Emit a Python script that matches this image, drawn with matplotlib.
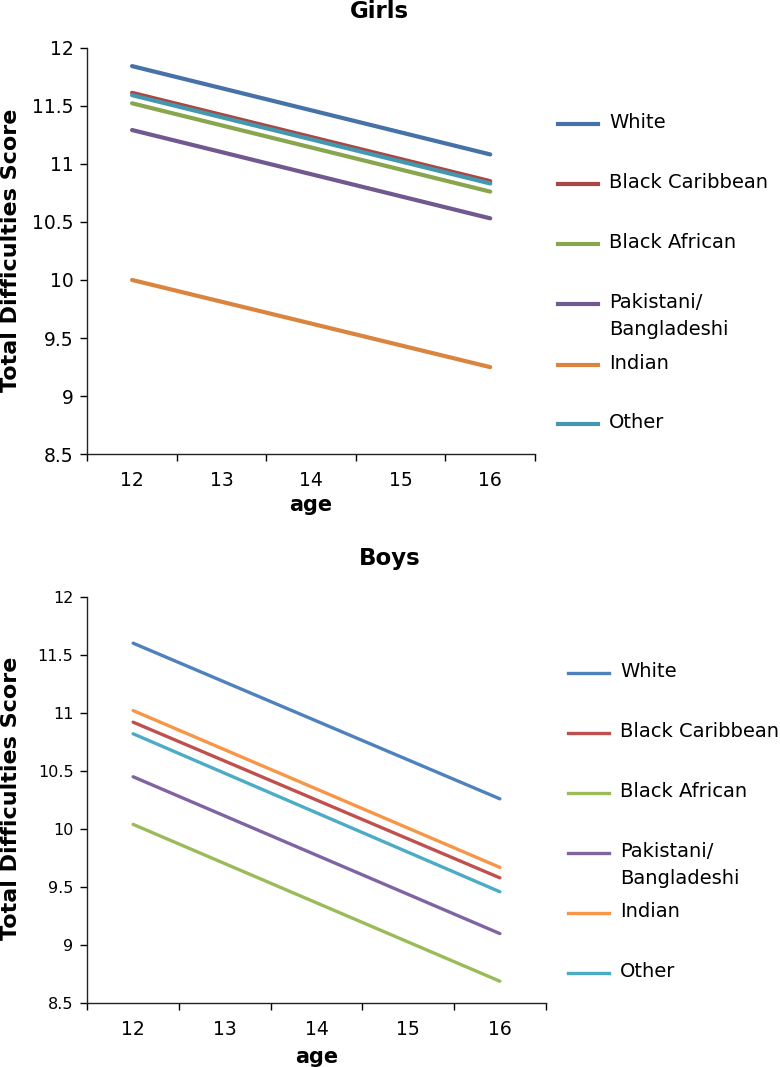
import matplotlib
matplotlib.use("Agg")
import matplotlib.pyplot as plt
from matplotlib.lines import Line2D

plt.rcParams['font.family'] = ['DejaVu Sans']

# data
ages = [12, 16]
groups = ['White', 'Black Caribbean', 'Black African', 'Pakistani/\nBangladeshi', 'Indian', 'Other']

girls_white = [11.84, 11.08]
girls_black_caribbean = [11.61, 10.85]
girls_black_african = [11.52, 10.76]
girls_pakistani = [11.29, 10.53]
girls_indian = [10.00, 9.25]
girls_other = [11.59, 10.83]

boys_white = [11.60, 10.26]
boys_black_caribbean = [10.92, 9.58]
boys_black_african = [10.04, 8.69]
boys_pakistani = [10.45, 9.10]
boys_indian = [11.02, 9.67]
boys_other = [10.82, 9.46]

girls = [girls_white, girls_black_caribbean, girls_black_african, girls_pakistani, girls_indian, girls_other]
boys = [boys_white, boys_black_caribbean, boys_black_african, boys_pakistani, boys_indian, boys_other]

girls_colors = ['#4672A8', '#AA4643', '#89A54E', '#71588F', '#DB843D', '#4198AF']
boys_colors = ['#4F81BD', '#C0504D', '#9BBB59', '#8064A2', '#F79646', '#4BACC6']

W, H = 780, 1067
fig = plt.figure(figsize=(W / 100, H / 100), dpi=100)


def px(x, y):
    return x / W, 1 - y / H


def panel(rect, series, colors, lw, ytick_size):
    ax = fig.add_axes(rect)
    for vals, c in zip(series, colors):
        ax.plot(ages, vals, color=c, lw=lw, solid_capstyle='round')
    ax.set_xlim(11.5, 16.5)
    ax.set_ylim(8.5, 12)
    ax.set_xticks([12, 13, 14, 15, 16])
    ax.set_xticks([11.5, 12.5, 13.5, 14.5, 15.5, 16.5], minor=True)
    ax.tick_params(axis='x', which='major', length=0, pad=12, labelsize=13.5)
    ax.tick_params(axis='x', which='minor', length=5, width=1, direction='out')
    ytk = [8.5, 9, 9.5, 10, 10.5, 11, 11.5, 12]
    ax.set_yticks(ytk)
    ax.set_yticklabels(['%g' % v for v in ytk])
    ax.tick_params(axis='y', length=5, width=1, direction='out', pad=5, labelsize=ytick_size)
    for s in ['top', 'right']:
        ax.spines[s].set_visible(False)
    for s in ['left', 'bottom']:
        ax.spines[s].set_linewidth(1)
        ax.spines[s].set_color('#222222')
    return ax


# girls panel
g_left, g_right, g_top, g_bot = 87.3, 535, 47.5, 454.3
panel([g_left / W, 1 - g_bot / H, (g_right - g_left) / W, (g_bot - g_top) / H],
      girls, girls_colors, 3.0, 13.5)

# boys panel
b_left, b_right, b_top, b_bot = 87.3, 545.7, 596.7, 1003.3
panel([b_left / W, 1 - b_bot / H, (b_right - b_left) / W, (b_bot - b_top) / H],
      boys, boys_colors, 2.4, 11.5)

# titles and labels
fig.text(*px(379, 12), 'Girls', ha='center', va='center', fontsize=16.5, fontweight='bold')
fig.text(*px(390, 559), 'Boys', ha='center', va='center', fontsize=16.5, fontweight='bold')
fig.text(*px(311, 505), 'age', ha='center', va='center', fontsize=15, fontweight='bold')
fig.text(*px(317, 1057), 'age', ha='center', va='center', fontsize=15, fontweight='bold')
fig.text(*px(11, 250), 'Total Difficulties Score', ha='center', va='center', rotation=90,
         fontsize=16, fontweight='bold')
fig.text(*px(11, 798), 'Total Difficulties Score', ha='center', va='center', rotation=90,
         fontsize=16, fontweight='bold')

# legends (Excel style, fixed row step)
def legend(x0, x1, xt, ys, colors, lw):
    for lab, c, y in zip(groups, colors, ys):
        xa, ya = px(x0, y)
        xb, _ = px(x1, y)
        fig.add_artist(Line2D([xa, xb], [ya, ya], color=c, lw=lw, transform=fig.transFigure))
        fig.text(*px(xt, y - 11), lab, ha='left', va='top', fontsize=14, linespacing=1.55)


legend(558, 598, 609, [124, 184, 244, 304, 365, 424], girls_colors, 3.0)
legend(568, 609, 620, [673, 733, 793, 853, 913, 973], boys_colors, 2.4)

fig.savefig('out.png', dpi=100)
